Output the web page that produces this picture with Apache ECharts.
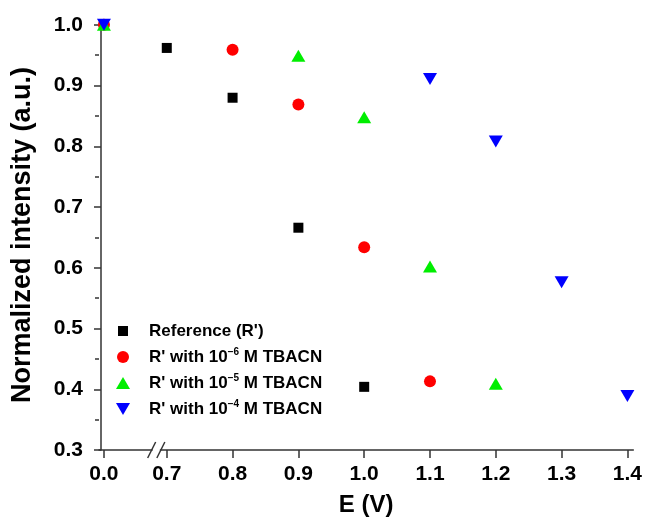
<!DOCTYPE html>
<html>
<head>
<meta charset="utf-8">
<script src="https://cdn.jsdelivr.net/npm/echarts@6/dist/echarts.min.js"></script>
<style>
html,body{margin:0;padding:0;background:#fff;}
#chart{width:645px;height:523px;}
</style>
</head>
<body>
<div id="chart"></div>
<script>
// ---- data (E in volts, normalized intensity) ----
const refE = [0.0, 0.7, 0.8, 0.9, 1.0];
const refI = [1.000, 0.962, 0.880, 0.666, 0.404];
const m6E = [0.0, 0.8, 0.9, 1.0, 1.1];
const m6I = [1.000, 0.959, 0.869, 0.634, 0.413];
const m5E = [0.0, 0.9, 1.0, 1.1, 1.2];
const m5I = [1.000, 0.949, 0.848, 0.602, 0.409];
const m4E = [0.0, 1.1, 1.2, 1.3, 1.4];
const m4I = [1.000, 0.911, 0.808, 0.576, 0.389];
const xTickE = [0.0, 0.7, 0.8, 0.9, 1.0, 1.1, 1.2, 1.3, 1.4];
const xTickLabels = ['0.0', '0.7', '0.8', '0.9', '1.0', '1.1', '1.2', '1.3', '1.4'];
const yMajor = [0.3, 0.4, 0.5, 0.6, 0.7, 0.8, 0.9, 1.0];
const yMinor = [0.35, 0.45, 0.55, 0.65, 0.75, 0.85, 0.95];
const seriesNames = ["Reference (R')", "R' with 10{sup|−6} M TBACN", "R' with 10{sup|−5} M TBACN", "R' with 10{sup|−4} M TBACN"];

// broken x axis: 0.0, then 0.7..1.4 evenly spaced
function toPos(e) { return e === 0 ? 0.045 : Math.round((e - 0.6) * 10 * 1000) / 1000; }
const xTickPos = xTickE.map(toPos);
function pair(es, is) { return es.map((e, k) => [toPos(e), is[k]]); }

const FONT = 'Liberation Sans, Arial, Helvetica, sans-serif';
const downTri = 'path://M0,0 L14,0 L7,12 Z';

const chart = echarts.init(document.getElementById('chart'));
const legendText = {
  fontFamily: FONT, fontWeight: 'bold', fontSize: 17, color: '#000', lineHeight: 20,
  rich: { sup: { fontFamily: FONT, fontWeight: 'bold', fontSize: 10, verticalAlign: 'top', lineHeight: 12, color: '#000' } }
};
function mkLegend(name, top, left, w, h, pad) {
  return {
    data: [name], orient: 'vertical', left: left, top: top, itemWidth: w, itemHeight: h,
    selectedMode: false, padding: 0,
    textStyle: Object.assign({}, legendText, { padding: [0, 0, 0, pad] })
  };
}
chart.setOption({
  animation: false,
  backgroundColor: '#fff',
  grid: { left: 99, right: 11, top: 20, bottom: 73 },
  legend: [
    mkLegend(seriesNames[0], 321, 118, 10, 10, 16),
    mkLegend(seriesNames[1], 347, 117, 12, 12, 15),
    mkLegend(seriesNames[2], 373, 116, 14, 12, 14),
    mkLegend(seriesNames[3], 399, 116, 14, 12, 14)
  ],
  xAxis: {
    type: 'value', min: -0.03, max: 8.09,
    name: 'E (V)', nameLocation: 'middle', nameGap: 43,
    nameTextStyle: { fontFamily: FONT, fontWeight: 'bold', fontSize: 24, color: '#000' },
    axisLine: { lineStyle: { color: '#333', width: 1.5 } },
    axisTick: { customValues: xTickPos, inside: false, length: 8, lineStyle: { color: '#333', width: 1.5 } },
    axisLabel: {
      customValues: xTickPos, margin: 14,
      fontFamily: FONT, fontWeight: 'bold', fontSize: 21, color: '#000',
      formatter: function (v) {
        let best = 0;
        for (let k = 0; k < xTickPos.length; k++) if (Math.abs(xTickPos[k] - v) < Math.abs(xTickPos[best] - v)) best = k;
        return xTickLabels[best];
      }
    },
    splitLine: { show: false }
  },
  yAxis: [{
    type: 'value', min: 0.3, max: 1.008,
    name: 'Normalized intensity (a.u.)', nameLocation: 'middle', nameGap: 63,
    nameTextStyle: { fontFamily: FONT, fontWeight: 'bold', fontSize: 27, color: '#000' },
    axisLine: { show: true, lineStyle: { color: '#333', width: 1.5 } },
    axisTick: { show: true, customValues: yMajor, length: 7, lineStyle: { color: '#333', width: 1.5 } },
    axisLabel: {
      customValues: yMajor, margin: 16,
      fontFamily: FONT, fontWeight: 'bold', fontSize: 21, color: '#000',
      formatter: v => v.toFixed(1)
    },
    splitLine: { show: false }
  }, {
    type: 'value', min: 0.3, max: 1.008, position: 'left',
    axisLine: { show: false },
    axisTick: { show: true, customValues: yMinor, length: 4, lineStyle: { color: '#333', width: 1.5 } },
    axisLabel: { show: false },
    splitLine: { show: false }
  }],
  series: [
    { name: seriesNames[0], type: 'scatter', symbol: 'rect', symbolSize: 10, itemStyle: { color: '#000000', opacity: 1 }, data: pair(refE, refI), z: 3 },
    { name: seriesNames[1], type: 'scatter', symbol: 'circle', symbolSize: 12, itemStyle: { color: '#ff0000', opacity: 1 }, data: pair(m6E, m6I), z: 4 },
    { name: seriesNames[2], type: 'scatter', symbol: 'triangle', symbolSize: [14, 12], itemStyle: { color: '#00ee00', opacity: 1 }, data: pair(m5E, m5I), z: 5 },
    { name: seriesNames[3], type: 'scatter', symbol: downTri, symbolSize: [14, 12], itemStyle: { color: '#0000ff', opacity: 1 }, data: pair(m4E, m4I), z: 6 }
  ]
});

// axis break marks "//" between 0.0 and 0.7
const p1 = chart.convertToPixel({ gridIndex: 0 }, [0.77, 0.3]);
const p2 = chart.convertToPixel({ gridIndex: 0 }, [0.91, 0.3]);
chart.setOption({
  graphic: [
    { type: 'rect', shape: { x: p1[0] + 1, y: p1[1] - 3, width: p2[0] - p1[0] - 2, height: 6 }, style: { fill: '#fff' }, z: 100 },
    { type: 'line', shape: { x1: p1[0] - 4, y1: p1[1] + 8, x2: p1[0] + 4, y2: p1[1] - 8 }, style: { stroke: '#333', lineWidth: 1.5 }, z: 101 },
    { type: 'line', shape: { x1: p2[0] - 4, y1: p2[1] + 8, x2: p2[0] + 4, y2: p2[1] - 8 }, style: { stroke: '#333', lineWidth: 1.5 }, z: 101 }
  ]
});
</script>
</body>
</html>
